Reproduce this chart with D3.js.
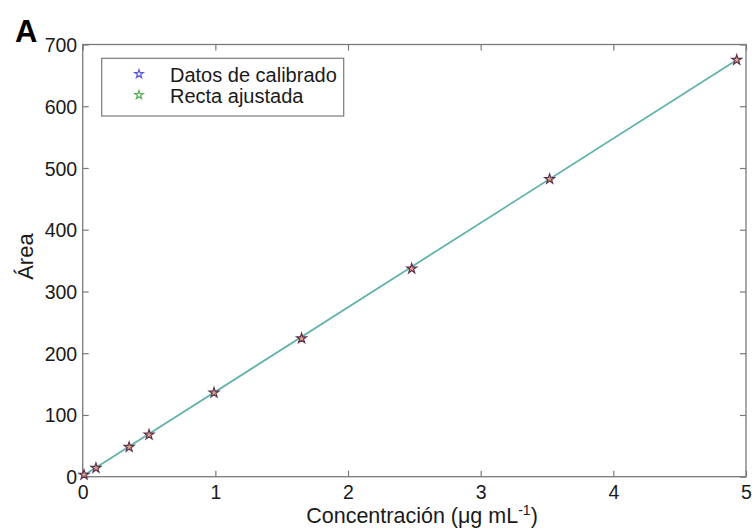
<!DOCTYPE html>
<html><head><meta charset="utf-8">
<script src="https://cdn.jsdelivr.net/npm/d3@7"></script>
<style>body{margin:0;background:#fff}svg{display:block}text{font-family:"Liberation Sans",Arial,sans-serif}</style>
</head><body><svg id="c" width="752" height="528"></svg>
<script>
const concX = [0.01, 0.1, 0.35, 0.5, 0.99, 1.65, 2.48, 3.52, 4.93];
const areaY = [3, 14, 48, 68, 136, 224, 337, 482, 675];
const fitX = [0, 4.93];
const fitY = [1, 675];
const xTicks = [0, 1, 2, 3, 4, 5];
const yTicks = [0, 100, 200, 300, 400, 500, 600, 700];
const legendLabels = ["Datos de calibrado", "Recta ajustada"];

const svg = d3.select("#c");
const L = 82.7, R = 746, T = 44.5, B = 476.7;
const x = d3.scaleLinear().domain([0, 5]).range([L, R]);
const y = d3.scaleLinear().domain([0, 700]).range([B, T]);
const axisColor = "#7a7a7a";

svg.append("rect").attr("x", L).attr("y", T).attr("width", R - L).attr("height", B - T)
  .attr("fill", "none").attr("stroke", axisColor).attr("stroke-width", 1.3);

const tl = 6;
const gx = svg.append("g").attr("transform", `translate(0,${B})`)
  .call(d3.axisBottom(x).tickValues(xTicks).tickFormat(d3.format("d")).tickSizeInner(-tl).tickSizeOuter(0).tickPadding(8));
const gxt = svg.append("g").attr("transform", `translate(0,${T})`)
  .call(d3.axisTop(x).tickValues(xTicks).tickFormat("").tickSizeInner(-tl).tickSizeOuter(0));
const gy = svg.append("g").attr("transform", `translate(${L},0)`)
  .call(d3.axisLeft(y).tickValues(yTicks).tickFormat(d3.format("d")).tickSizeInner(-tl).tickSizeOuter(0).tickPadding(5.5));
const gyr = svg.append("g").attr("transform", `translate(${R},0)`)
  .call(d3.axisRight(y).tickValues(yTicks).tickFormat("").tickSizeInner(-tl).tickSizeOuter(0));
[gx, gxt, gy, gyr].forEach(g => {
  g.select(".domain").remove();
  g.selectAll(".tick line").attr("stroke", axisColor).attr("stroke-width", 1.2);
  g.selectAll("text").attr("fill", "#1a1a1a").style("font-size", "19.5px");
});
gx.selectAll("text").attr("dy", "0.71em");
gy.selectAll("text").attr("dy", "0.36em");

// fitted line
svg.append("path").datum(fitX.map((d, i) => [d, fitY[i]]))
  .attr("d", d3.line().x(d => x(d[0])).y(d => y(d[1])))
  .attr("fill", "none").attr("stroke", "#62b3aa").attr("stroke-width", 1.8);

// star markers
const star = d3.symbol().type(d3.symbolStar).size(30);
svg.append("g").selectAll("path").data(concX).join("path")
  .attr("d", star)
  .attr("transform", (d, i) => `translate(${x(d)},${y(areaY[i])})`)
  .attr("fill", "#e0a078").attr("fill-opacity", 0.85)
  .attr("stroke", "#5e3050").attr("stroke-width", 1.2);

// legend
const lg = svg.append("g");
lg.append("rect").attr("x", 101.7).attr("y", 58.3).attr("width", 242).attr("height", 57.7)
  .attr("fill", "#fff").attr("stroke", axisColor).attr("stroke-width", 1.2);
const legCol = ["#5a5adc", "#5cae5c"];
legendLabels.forEach((t, i) => {
  const yy = 74 + i * 21;
  lg.append("path").attr("d", d3.symbol().type(d3.symbolStar).size(22))
    .attr("transform", `translate(139,${yy})`).attr("fill", "#fff")
    .attr("stroke", legCol[i]).attr("stroke-width", 1.2);
  lg.append("text").attr("x", 170).attr("y", yy + 7.5).text(t)
    .style("font-size", "20px").attr("fill", "#1a1a1a");
});

// titles
svg.append("text").attr("x", 422).attr("y", 523).attr("text-anchor", "middle")
  .style("font-size", "21.5px").attr("fill", "#1a1a1a")
  .html('Concentración (μg mL<tspan dy="-8" style="font-size:14px">-1</tspan><tspan dy="8">)</tspan>');
svg.append("text").attr("transform", `translate(33,${(T + B) / 2 - 4}) rotate(-90)`)
  .attr("text-anchor", "middle").style("font-size", "22px").attr("fill", "#1a1a1a").text("Área");
svg.append("text").attr("x", 15).attr("y", 42).style("font-size", "31px")
  .style("font-weight", "bold").attr("fill", "#000").text("A");
</script></body></html>
